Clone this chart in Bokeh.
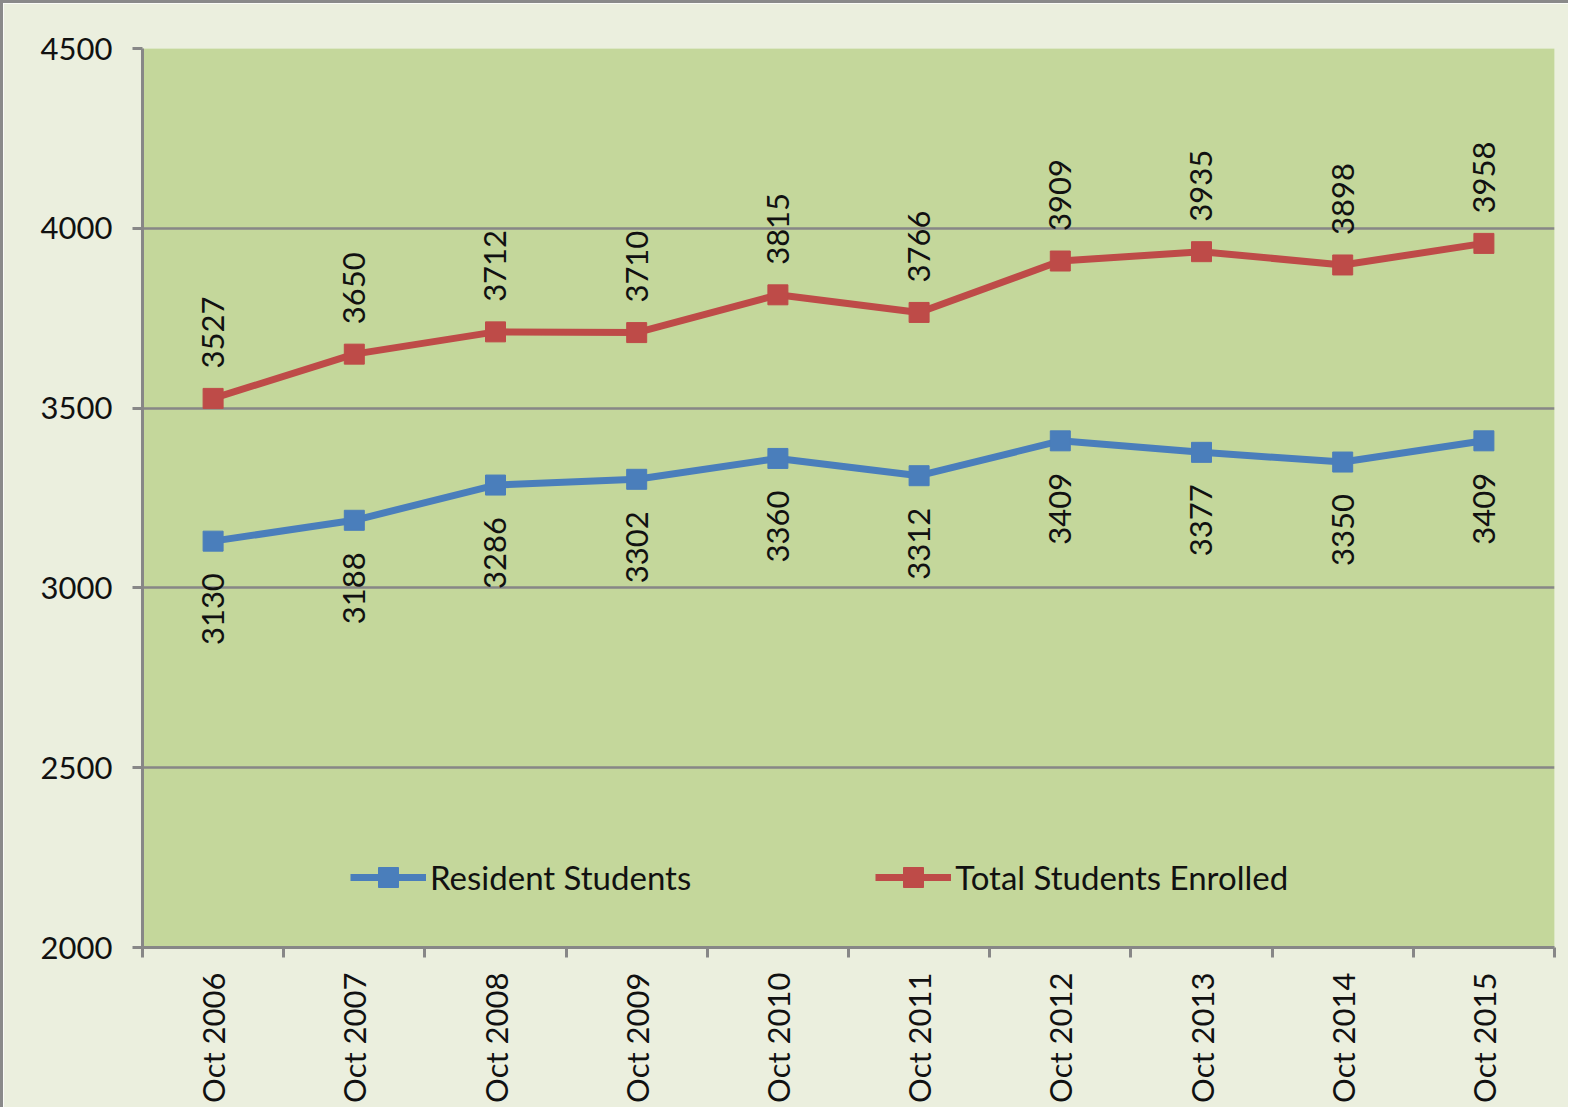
import numpy as np
from bokeh.plotting import figure
from bokeh.models import (Range1d, FixedTicker, ColumnDataSource, LabelSet, Legend, LegendItem)
from bokeh.core.properties import value
from bokeh.embed import file_html
from bokeh.resources import INLINE

categories = ["Oct 2006", "Oct 2007", "Oct 2008", "Oct 2009", "Oct 2010",
              "Oct 2011", "Oct 2012", "Oct 2013", "Oct 2014", "Oct 2015"]
resident = [3130, 3188, 3286, 3302, 3360, 3312, 3409, 3377, 3350, 3409]
total = [3527, 3650, 3712, 3710, 3815, 3766, 3909, 3935, 3898, 3958]
y_ticks = [2000, 2500, 3000, 3500, 4000, 4500]

FONT = "Lato"
FS = "31px"
CREAM = "#EBEFDE"
GREEN = "#C4D79B"
GRAY = "#878787"
BLUE = "#4A7EBB"
RED = "#BE4B48"

n = len(categories)
xs = np.arange(n) + 0.5

p = figure(frame_width=1412, frame_height=899,
           min_border_left=139, min_border_top=45, min_border_right=14, min_border_bottom=160,
           x_range=Range1d(0, n), y_range=Range1d(y_ticks[0], y_ticks[-1]),
           output_backend="svg", toolbar_location=None)
p.background_fill_color = GREEN
p.border_fill_color = CREAM
p.outline_line_color = None
p.styles = {"border-top": "3px solid #8a8a8a", "border-left": "3px solid #8a8a8a"}

# axes
p.xgrid.grid_line_color = None
p.ygrid.ticker = FixedTicker(ticks=y_ticks)
p.ygrid.grid_line_color = GRAY
p.ygrid.grid_line_width = 2.5

p.yaxis.ticker = FixedTicker(ticks=y_ticks)
p.yaxis.axis_line_color = GRAY
p.yaxis.axis_line_width = 3
p.yaxis.major_tick_line_color = GRAY
p.yaxis.major_tick_line_width = 3
p.yaxis.major_tick_out = 10
p.yaxis.major_tick_in = 0
p.yaxis.minor_tick_line_color = None
p.yaxis.major_label_standoff = 20
p.yaxis.major_label_text_font = FONT
p.yaxis.major_label_text_font_size = FS
p.yaxis.major_label_text_color = "#111111"

p.xaxis.ticker = FixedTicker(ticks=list(xs), minor_ticks=list(range(n + 1)))
p.xaxis.major_label_overrides = {float(x): c for x, c in zip(xs, categories)}
p.xaxis.axis_line_color = GRAY
p.xaxis.axis_line_width = 3
p.xaxis.major_tick_line_color = None
p.xaxis.major_tick_out = 0
p.xaxis.major_tick_in = 0
p.xaxis.minor_tick_line_color = GRAY
p.xaxis.minor_tick_line_width = 3
p.xaxis.minor_tick_out = 10
p.xaxis.minor_tick_in = 0
p.xaxis.major_label_orientation = np.pi / 2
p.xaxis.major_label_standoff = 15
p.xaxis.major_label_text_font = FONT
p.xaxis.major_label_text_font_size = FS
p.xaxis.major_label_text_color = "#111111"

src = ColumnDataSource(dict(x=xs, res=resident, tot=total,
                            res_t=[str(v) for v in resident],
                            tot_t=[str(v) for v in total]))

l1 = p.line("x", "res", source=src, line_color=BLUE, line_width=7)
m1 = p.scatter("x", "res", source=src, marker="square", size=20,
               fill_color=BLUE, line_color=BLUE)
l2 = p.line("x", "tot", source=src, line_color=RED, line_width=7)
m2 = p.scatter("x", "tot", source=src, marker="square", size=20,
               fill_color=RED, line_color=RED)

lab_res = LabelSet(x="x", y="res", text="res_t", source=src, angle=np.pi / 2,
                   text_align="right", text_baseline="middle", y_offset=-32,
                   text_font=value(FONT), text_font_size=value(FS), text_color="#111111")
lab_tot = LabelSet(x="x", y="tot", text="tot_t", source=src, angle=np.pi / 2,
                   text_align="left", text_baseline="middle", y_offset=30,
                   text_font=value(FONT), text_font_size=value(FS), text_color="#111111")
p.add_layout(lab_res)
p.add_layout(lab_tot)

legend = Legend(items=[LegendItem(label="Resident Students", renderers=[l1, m1]),
                       LegendItem(label="Total Students Enrolled", renderers=[l2, m2])],
                orientation="horizontal", location=(208, 45),
                background_fill_alpha=0, border_line_color=None,
                label_text_font=FONT, label_text_font_size="33px", label_text_color="#111111",
                glyph_width=76, glyph_height=50, label_standoff=4, spacing=184,
                padding=0, margin=0)
p.add_layout(legend)

open("out.html", "w").write(file_html(p, INLINE))
